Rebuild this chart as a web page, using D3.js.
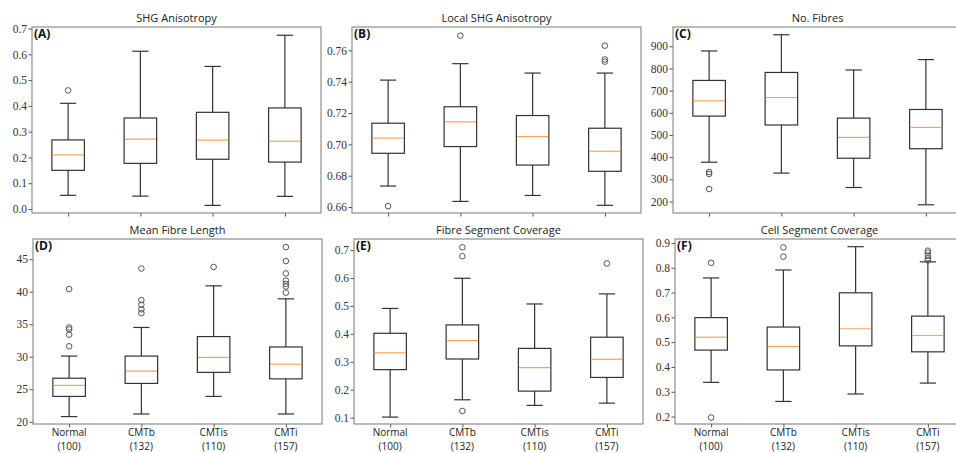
<!DOCTYPE html>
<html>
<head>
<meta charset="utf-8">
<script src="https://cdn.jsdelivr.net/npm/d3@7/dist/d3.min.js"></script>
<style>
  body { margin: 0; background: #fff; }
  svg { display: block; }
</style>
</head>
<body>
<svg id="chart" width="956" height="453"></svg>
<script>
// groups on the x axis
const categories = ['Normal', 'CMTb', 'CMTis', 'CMTi'];
const counts = [100, 132, 110, 157];

const titles = ['SHG Anisotropy', 'Local SHG Anisotropy', 'No. Fibres',
                'Mean Fibre Length', 'Fibre Segment Coverage', 'Cell Segment Coverage'];
const tags = ['(A)', '(B)', '(C)', '(D)', '(E)', '(F)'];

// box stats per group: [whisker low, q1, median, q3, whisker high]
const shgBoxes = [[0.053, 0.150, 0.210, 0.268, 0.410], [0.050, 0.177, 0.271, 0.353, 0.612],
                  [0.014, 0.193, 0.267, 0.375, 0.553], [0.049, 0.182, 0.263, 0.392, 0.674]];
const shgFliers = [[0.46], [], [], []];
const shgTicks = [0.0, 0.1, 0.2, 0.3, 0.4, 0.5, 0.6, 0.7];
const shgRange = [-0.0155, 0.706];

const localBoxes = [[0.6734, 0.6943, 0.7040, 0.7135, 0.7410], [0.6636, 0.6986, 0.7144, 0.7240, 0.7515],
                    [0.6674, 0.6868, 0.7050, 0.7184, 0.7455], [0.6611, 0.6828, 0.6956, 0.7103, 0.7455]];
const localFliers = [[0.6606], [0.7694], [], [0.7630, 0.7542, 0.7528]];
const localTicks = [0.66, 0.68, 0.70, 0.72, 0.74, 0.76];
const localRange = [0.6562, 0.7749];

const fibreBoxes = [[377, 585, 654, 746, 879], [328, 545, 669, 782, 952],
                    [263, 395, 489, 576, 793], [185, 438, 534, 615, 840]];
const fibreFliers = [[333, 324, 256], [], [], []];
const fibreTicks = [200, 300, 400, 500, 600, 700, 800, 900];
const fibreRange = [148, 987];

const lengthBoxes = [[20.8, 23.9, 25.6, 26.7, 30.1], [21.2, 25.9, 27.8, 30.1, 34.5],
                     [23.9, 27.6, 29.9, 33.1, 40.9], [21.2, 26.6, 28.85, 31.5, 38.9]];
const lengthFliers = [[40.4, 34.5, 34.2, 33.4, 31.6], [43.56, 38.7, 38.0, 37.3, 36.7],
                      [43.8], [46.85, 44.7, 42.8, 41.7, 41.2, 40.8, 39.85]];
const lengthTicks = [20, 25, 30, 35, 40, 45];
const lengthRange = [19.66, 48.1];

const fscBoxes = [[0.102, 0.272, 0.332, 0.402, 0.491], [0.164, 0.310, 0.376, 0.432, 0.599],
                  [0.144, 0.195, 0.279, 0.348, 0.507], [0.152, 0.244, 0.309, 0.388, 0.543]];
const fscFliers = [[], [0.710, 0.678, 0.124], [], [0.652]];
const fscTicks = [0.1, 0.2, 0.3, 0.4, 0.5, 0.6, 0.7];
const fscRange = [0.0773, 0.7396];

const cscBoxes = [[0.338, 0.468, 0.520, 0.599, 0.759], [0.261, 0.388, 0.482, 0.561, 0.791],
                  [0.291, 0.485, 0.554, 0.699, 0.885], [0.335, 0.461, 0.527, 0.605, 0.824]];
const cscFliers = [[0.820, 0.196], [0.882, 0.845], [], [0.869, 0.861, 0.849, 0.838, 0.830]];
const cscTicks = [0.2, 0.3, 0.4, 0.5, 0.6, 0.7, 0.8, 0.9];
const cscRange = [0.170, 0.916];

const panels = [
  {boxes: shgBoxes, fliers: shgFliers, ticks: shgTicks, range: shgRange, fmt: '.1f'},
  {boxes: localBoxes, fliers: localFliers, ticks: localTicks, range: localRange, fmt: '.2f'},
  {boxes: fibreBoxes, fliers: fibreFliers, ticks: fibreTicks, range: fibreRange, fmt: 'd'},
  {boxes: lengthBoxes, fliers: lengthFliers, ticks: lengthTicks, range: lengthRange, fmt: 'd'},
  {boxes: fscBoxes, fliers: fscFliers, ticks: fscTicks, range: fscRange, fmt: '.1f'},
  {boxes: cscBoxes, fliers: cscFliers, ticks: cscTicks, range: cscRange, fmt: '.1f'}
];

// layout
const rowTop = [27, 239], rowBottom = [213, 424];
const colLeft = [[32, 352, 673], [33, 354, 675]];
const panelW = 289;
const boxWidth = 0.45;

const svg = d3.select('#chart');

panels.forEach((p, i) => {
  const row = Math.floor(i / 3), col = i % 3;
  const left = colLeft[row][col], top = rowTop[row], bottom = rowBottom[row];

  const x = d3.scaleLinear().domain([0.5, 4.5]).range([left, left + panelW]);
  const y = d3.scaleLinear().domain(p.range).range([bottom, top]);
  const g = svg.append('g');

  // y axis
  const yAxis = d3.axisLeft(y).tickValues(p.ticks).tickSize(3.5).tickPadding(1.5)
    .tickFormat(d3.format(p.fmt));
  const ya = g.append('g').attr('transform', `translate(${left},0)`).call(yAxis);
  ya.select('.domain').remove();
  ya.selectAll('line').attr('stroke', '#555');
  ya.selectAll('text').attr('fill', '#333')
    .style('font-family', '"Liberation Serif", "DejaVu Serif", serif').style('font-size', '11.5px');

  // x axis
  const xAxis = d3.axisBottom(x).tickValues([1, 2, 3, 4]).tickSize(3.5).tickFormat('');
  const xa = g.append('g').attr('transform', `translate(0,${bottom})`).call(xAxis);
  xa.select('.domain').remove();
  xa.selectAll('line').attr('stroke', '#555');

  if (row === 1) {
    categories.forEach((c, k) => {
      const t = g.append('text').attr('x', x(k + 1)).attr('text-anchor', 'middle')
        .attr('fill', '#222').style('font-family', '"Open Sans", sans-serif').style('font-size', '10px');
      t.append('tspan').attr('x', x(k + 1)).attr('y', bottom + 12).text(c);
      t.append('tspan').attr('x', x(k + 1)).attr('y', bottom + 26).text(`(${counts[k]})`);
    });
  }

  // frame
  g.append('rect').attr('x', left).attr('y', top).attr('width', panelW).attr('height', bottom - top)
    .attr('fill', 'none').attr('stroke', '#777').attr('stroke-width', 1);

  // title and tag
  g.append('text').attr('x', left + panelW / 2).attr('y', top - 5).attr('text-anchor', 'middle')
    .attr('fill', '#222').style('font-family', '"Open Sans", sans-serif').style('font-size', '11px')
    .text(titles[i]);
  g.append('text').attr('x', left + 2).attr('y', top + 11)
    .attr('fill', '#111').style('font-family', '"Open Sans", sans-serif').style('font-size', '12px')
    .style('font-weight', 'bold').text(tags[i]);

  // boxes
  const bw = x(1 + boxWidth) - x(1);
  const items = g.selectAll('.box').data(p.boxes).enter().append('g').attr('class', 'box');
  const line = (sel) => sel.attr('stroke', '#333').attr('stroke-width', 1.2);

  items.append('line').call(line)
    .attr('x1', (d, k) => x(k + 1)).attr('x2', (d, k) => x(k + 1))
    .attr('y1', d => y(d[0])).attr('y2', d => y(d[1]));
  items.append('line').call(line)
    .attr('x1', (d, k) => x(k + 1)).attr('x2', (d, k) => x(k + 1))
    .attr('y1', d => y(d[3])).attr('y2', d => y(d[4]));
  [0, 4].forEach(j => {
    items.append('line').call(line)
      .attr('x1', (d, k) => x(k + 1) - bw / 4).attr('x2', (d, k) => x(k + 1) + bw / 4)
      .attr('y1', d => y(d[j])).attr('y2', d => y(d[j]));
  });
  items.append('rect').call(line).attr('fill', 'none')
    .attr('x', (d, k) => x(k + 1) - bw / 2).attr('width', bw)
    .attr('y', d => y(d[3])).attr('height', d => y(d[1]) - y(d[3]));
  items.append('line').attr('stroke', '#f5a65b').attr('stroke-width', 1.2)
    .attr('x1', (d, k) => x(k + 1) - bw / 2 + 0.6).attr('x2', (d, k) => x(k + 1) + bw / 2 - 0.6)
    .attr('y1', d => y(d[2])).attr('y2', d => y(d[2]));

  // outliers
  p.fliers.forEach((vals, k) => {
    g.selectAll(null).data(vals).enter().append('circle')
      .attr('cx', x(k + 1)).attr('cy', d => y(d)).attr('r', 2.8)
      .attr('fill', 'none').attr('stroke', '#555').attr('stroke-width', 1);
  });
});
</script>
</body>
</html>
